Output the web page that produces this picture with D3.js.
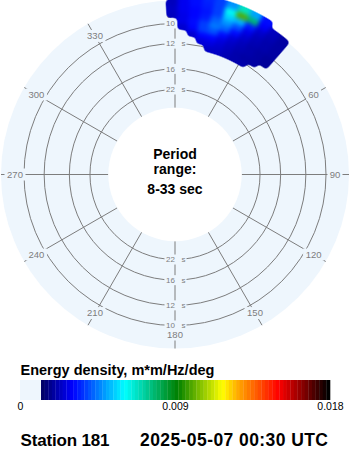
<!DOCTYPE html>
<html lang="en">
<head>
<meta charset="utf-8">
<title>Directional wave spectrum</title>
<script src="https://cdn.jsdelivr.net/npm/d3@7"></script>
<style>
  body { margin: 0; background: #fff; }
  text { font-family: "Liberation Sans", Arial, sans-serif; }
</style>
</head>
<body>
<script>
// direction bins (deg, centre of 4 deg bins)
var directions = [-1, 3, 7, 11, 15, 19, 23, 27, 31, 35, 39];
// frequency bins (Hz, centre of 0.005 Hz bins), inner -> outer
var frequencies = [0.0825, 0.0875, 0.0925, 0.0975, 0.1025, 0.1075, 0.1125, 0.1175, 0.1225];
// energy density, one row per frequency
var energy = [
  [0,      0,      0,      0,      0.0024, 0.0024, 0.0022, 0.0021, 0.0021, 0,      0     ],
  [0,      0,      0,      0.0026, 0.0027, 0.0025, 0.0023, 0.0021, 0.0020, 0.0020, 0     ],
  [0,      0,      0.0025, 0.0031, 0.0031, 0.0027, 0.0024, 0.0022, 0.0021, 0.0020, 0.0019],
  [0,      0.0025, 0.0031, 0.0038, 0.0040, 0.0032, 0.0026, 0.0023, 0.0021, 0.0020, 0.0019],
  [0,      0.0028, 0.0032, 0.0038, 0.0045, 0.0042, 0.0032, 0.0025, 0.0022, 0.0021, 0.0020],
  [0.0023, 0.0028, 0.0031, 0.0034, 0.0042, 0.0048, 0.0040, 0.0028, 0.0023, 0.0021, 0.0020],
  [0.0024, 0.0029, 0.0031, 0.0033, 0.0038, 0.0055, 0.0052, 0.0034, 0.0025, 0.0022, 0.0020],
  [0.0023, 0.0029, 0.0032, 0.0034, 0.0038, 0.0062, 0.0100, 0.0078, 0.0030, 0.0023, 0.0020],
  [0,      0,      0.0032, 0.0035, 0.0038, 0.0048, 0.0068, 0.0050, 0.0032, 0,      0     ]
];
var ringPeriods = [10, 12, 16, 22];
var dirAngles = [0, 30, 60, 90, 120, 150, 180, 210, 240, 270, 300, 330];
var dirLabels = ["360", "30", "60", "90", "120", "150", "180", "210", "240", "270", "300", "330"];
var colorStops = [0.00122, 0.00307, 0.00608, 0.00914, 0.01175, 0.0127, 0.0150, 0.0165, 0.0179];
var colorStopColors = ["#000060", "#0000ff", "#00ffff", "#008000", "#ffff00", "#ffa500", "#ff0000", "#800000", "#000000"];
var cbTicks = [0, 0.009, 0.018];
var cbTickLabels = ["0", "0.009", "0.018"];

var w = 350, h = 450;
var cx = 175, cy = 174.5, discR = 174;
var bgColor = "#eef6fd", gridColor = "#7d7d7d";
var binDir = 2, binFreq = 0.0025;   // half widths

var svg = d3.select("body").append("svg")
    .attr("width", w)
    .attr("height", h);

// blur + alpha threshold so the spectrum cells read as one smooth patch
var filt = svg.append("defs").append("filter")
    .attr("id", "smooth")
    .attr("x", "-20%").attr("y", "-20%").attr("width", "140%").attr("height", "140%")
    .attr("color-interpolation-filters", "sRGB");
filt.append("feGaussianBlur").attr("stdDeviation", 2);
filt.append("feComponentTransfer")
    .append("feFuncA").attr("type", "linear").attr("slope", 4).attr("intercept", -1.5);

// radius from frequency (linear in frequency)
var rScale = d3.scaleLinear().domain([1 / 33, 1 / 8]).range([66.7, 181.25]);
var color = d3.scaleLinear().domain(colorStops).range(colorStopColors).clamp(true);
var rad = Math.PI / 180;

var polar = svg.append("g").attr("transform", "translate(" + cx + "," + cy + ")");

polar.append("circle").attr("r", discR).attr("fill", bgColor);

// rings
polar.selectAll("circle.ring")
    .data(ringPeriods)
    .enter()
    .append("circle")
    .attr("class", "ring")
    .attr("r", function(d) { return rScale(1 / d); })
    .attr("fill", "none")
    .attr("stroke", gridColor)
    .attr("stroke-width", 1);

// spokes
polar.selectAll("line.spoke")
    .data(dirAngles)
    .enter()
    .append("line")
    .attr("class", "spoke")
    .attr("x1", function(d) { return rScale(1 / 33) * Math.sin(d * rad); })
    .attr("y1", function(d) { return -rScale(1 / 33) * Math.cos(d * rad); })
    .attr("x2", function(d) { return discR * Math.sin(d * rad); })
    .attr("y2", function(d) { return -discR * Math.cos(d * rad); })
    .attr("stroke", gridColor)
    .attr("stroke-width", 1);

polar.append("circle").attr("r", rScale(1 / 33)).attr("fill", "#fff");

// ring labels, top and bottom
var ringLab = [];
ringPeriods.forEach(function(p) { ringLab.push({p: p, s: -1}); ringLab.push({p: p, s: 1}); });
var rl = polar.selectAll("g.rlab")
    .data(ringLab)
    .enter()
    .append("g")
    .attr("transform", function(d) { return "translate(0," + (d.s * rScale(1 / d.p)) + ")"; });
rl.append("rect")
    .attr("x", -10.5).attr("y", -5).attr("width", 22).attr("height", 10)
    .attr("fill", bgColor);
rl.append("text")
    .attr("x", 0)
    .attr("text-anchor", "end")
    .attr("dy", "0.35em")
    .attr("font-family", "DejaVu Sans")
    .attr("font-size", "8px")
    .attr("fill", gridColor)
    .text(function(d) { return d.p; });
rl.append("text")
    .attr("x", 6.5)
    .attr("dy", "0.35em")
    .attr("font-family", "DejaVu Sans")
    .attr("font-size", "8px")
    .attr("fill", gridColor)
    .text("s");

// direction labels
var dl = polar.selectAll("g.dlab")
    .data(dirAngles)
    .enter()
    .append("g")
    .attr("transform", function(d) {
        return "translate(" + (160 * Math.sin(d * rad)) + "," + (-160 * Math.cos(d * rad)) + ")";
    });
dl.append("rect")
    .attr("x", function(d, i) { return -dirLabels[i].length * 3 - 1.5; })
    .attr("y", -6)
    .attr("width", function(d, i) { return dirLabels[i].length * 6 + 3; })
    .attr("height", 12)
    .attr("fill", bgColor);
dl.append("text")
    .attr("text-anchor", "middle")
    .attr("dy", "0.36em")
    .attr("font-family", "DejaVu Sans")
    .attr("font-size", "9.5px")
    .attr("fill", gridColor)
    .text(function(d, i) { return dirLabels[i]; });

// spectrum cells
var arc = d3.arc();
var cells = [];
frequencies.forEach(function(f, i) {
    directions.forEach(function(dir, j) {
        if (energy[i][j] > colorStops[0]) cells.push({f: f, dir: dir, v: energy[i][j]});
    });
});
polar.append("g")
    .attr("filter", "url(#smooth)")
    .selectAll("path.cell")
    .data(cells)
    .enter()
    .append("path")
    .attr("class", "cell")
    .attr("d", function(d) {
        return arc({
            innerRadius: rScale(d.f - binFreq),
            outerRadius: rScale(d.f + binFreq),
            startAngle: (d.dir - binDir) * rad,
            endAngle: (d.dir + binDir) * rad
        });
    })
    .attr("fill", function(d) { return color(d.v); })
    .attr("stroke", function(d) { return color(d.v); })
    .attr("stroke-width", 0.6);

// centre text
var ct = polar.append("g")
    .attr("font-weight", "bold")
    .attr("font-size", "14px")
    .attr("text-anchor", "middle")
    .attr("fill", "#000");
ct.append("text").attr("y", -15.5).text("Period");
ct.append("text").attr("y", -1).text("range:");
ct.append("text").attr("y", 19.5).text("8-33 sec");

// colour bar
var cbX = d3.scaleLinear().domain([0, 0.018]).range([20, 330]);
svg.append("text")
    .attr("x", 20.5).attr("y", 375)
    .attr("font-weight", "bold")
    .attr("font-size", "14.5px")
    .text("Energy density, m*m/Hz/deg");

svg.append("rect")
    .attr("x", cbX(0)).attr("y", 380)
    .attr("width", cbX(colorStops[0]) - cbX(0)).attr("height", 20)
    .attr("fill", bgColor);

var nBands = 80;
var bands = d3.range(nBands).map(function(k) {
    var step = (0.018 - colorStops[0]) / nBands;
    return {v0: colorStops[0] + k * step, v1: colorStops[0] + (k + 1) * step};
});
svg.selectAll("rect.band")
    .data(bands)
    .enter()
    .append("rect")
    .attr("class", "band")
    .attr("x", function(d) { return cbX(d.v0); })
    .attr("y", 380)
    .attr("width", function(d) { return cbX(d.v1) - cbX(d.v0) + 0.3; })
    .attr("height", 20)
    .attr("fill", function(d) { return color((d.v0 + d.v1) / 2); });

var cbAxis = d3.axisBottom(cbX)
    .tickValues(cbTicks)
    .tickFormat(function(d, i) { return cbTickLabels[i]; })
    .tickSize(0)
    .tickPadding(3);
var cbG = svg.append("g")
    .attr("transform", "translate(0,400)")
    .call(cbAxis);
cbG.select(".domain").remove();
cbG.selectAll("text")
    .attr("font-family", "Liberation Sans, Arial, sans-serif")
    .attr("font-size", "10.5px")
    .attr("fill", "#000");

// footer
svg.append("text")
    .attr("x", 20.5).attr("y", 446)
    .attr("font-weight", "bold")
    .attr("font-size", "17px")
    .attr("textLength", 89)
    .attr("lengthAdjust", "spacing")
    .text("Station 181");
svg.append("text")
    .attr("x", 140).attr("y", 446)
    .attr("font-weight", "bold")
    .attr("font-size", "17.5px")
    .attr("textLength", 188)
    .attr("lengthAdjust", "spacing")
    .text("2025-05-07 00:30 UTC");
</script>
</body>
</html>
